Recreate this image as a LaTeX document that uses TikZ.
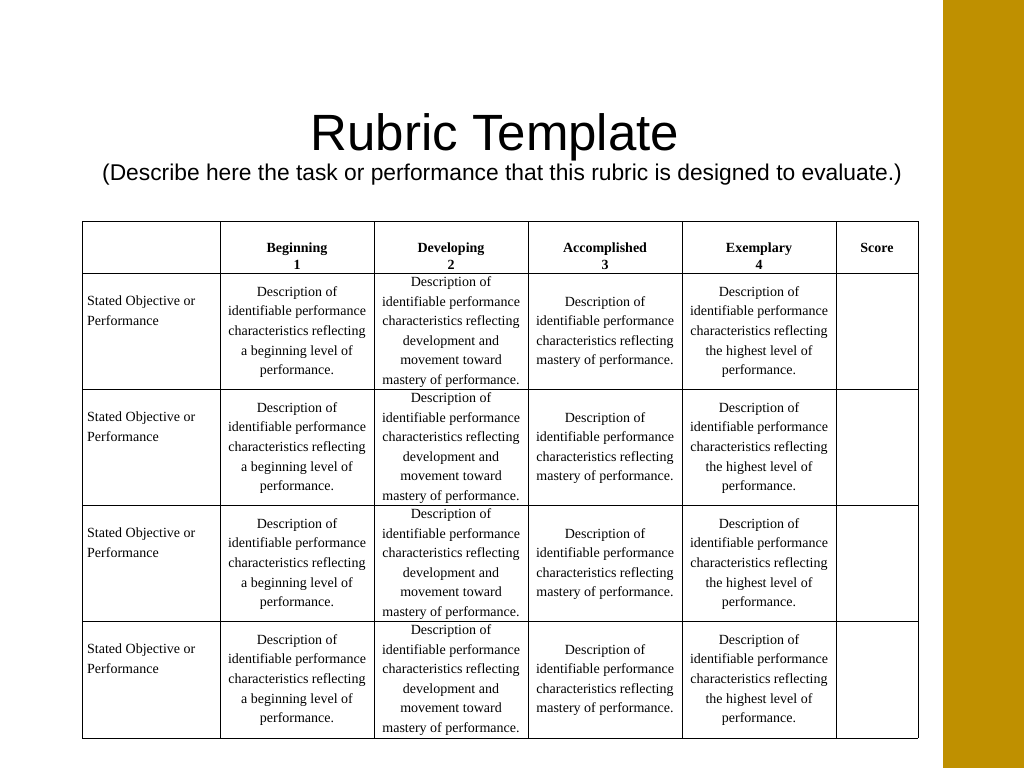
\documentclass[tikz,border=0pt]{standalone}
\usepackage{fontspec}
\setmainfont{Liberation Serif}
\newfontfamily\arialf{Liberation Sans}
\definecolor{gold}{RGB}{191,144,0}
\begin{document}
\begin{tikzpicture}[x=1pt,y=-1pt,
  cell/.style={inner sep=0pt,align=center,font=\fontsize{14}{19.6}\selectfont},
  lcell/.style={inner sep=0pt,align=left,anchor=north west,font=\fontsize{14}{19.6}\selectfont},
  hcell/.style={inner sep=0pt,align=center,font=\fontsize{14}{17}\selectfont\bfseries},
  grid/.style={line width=1pt,black}]
\useasboundingbox (0,0) rectangle (1024,768);
\fill[white] (0,0) rectangle (1024,768);
\fill[gold] (943,0) rectangle (1024,768);
\node[inner sep=0pt,font=\arialf\fontsize{51}{56}\selectfont] (title) at (495,137) {Rubric Template};
\node[inner sep=0pt,font=\arialf\fontsize{22.8}{26}\selectfont] (sub) at (502,175) {(Describe here the task or performance that this rubric is designed to evaluate.)};
% grid
\foreach \x in {82,220,374,528,682,836,918} \draw[grid] (\x,221) -- (\x,738);
\foreach \y in {221,273,389,505,621,738} \draw[grid] (82,\y) -- (918,\y);
% header
\node[hcell] (h1) at (297,256) {Beginning\\1};
\node[hcell] (h2) at (451,256) {Developing\\2};
\node[hcell] (h3) at (605,256) {Accomplished\\3};
\node[hcell] (h4) at (759,256) {Exemplary\\4};
\node[hcell] (h5) at (877,248) {Score};
\foreach \r/\y in {1/273,2/389,3/505,4/621}{
  \node[lcell] (o\r) at (87,\y+23) {Stated Objective or\\Performance};
  \node[cell] (b\r) at (297,\y+59) {Description of\\identifiable performance\\characteristics reflecting\\a beginning level of\\performance.};
  \node[cell] (d\r) at (451,\y+59) {Description of\\identifiable performance\\characteristics reflecting\\development and\\movement toward\\mastery of performance.};
  \node[cell] (a\r) at (605,\y+59) {Description of\\identifiable performance\\characteristics reflecting\\mastery of performance.};
  \node[cell] (e\r) at (759,\y+59) {Description of\\identifiable performance\\characteristics reflecting\\the highest level of\\performance.};
}
\end{tikzpicture}
\end{document}
